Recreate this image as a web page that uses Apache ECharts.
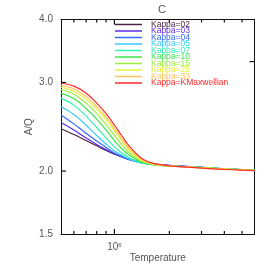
<!DOCTYPE html>
<html><head><meta charset="utf-8">
<script src="https://cdn.jsdelivr.net/npm/echarts@6/dist/echarts.min.js"></script>
<style>html,body{margin:0;padding:0;background:#fff}#c{width:273px;height:273px}</style>
</head><body><div id="c"></div>
<script>
// Temperature grid (K)
var temps = [5.1e5, 6e5, 7e5, 8e5, 9e5, 1.0e6, 1.1e6, 1.2e6, 1.4e6, 1.6e6, 1.8e6, 2.0e6, 2.5e6, 3e6, 4e6, 5e6, 5.85e6];
var seriesNames = ['Kappa=02','Kappa=03','Kappa=04','Kappa=05','Kappa=07','Kappa=10','Kappa=15','Kappa=25','Kappa=33','Kappa=KMaxwellian'];
var k02 = [2.428,2.364,2.300,2.245,2.198,2.160,2.134,2.114,2.086,2.070,2.060,2.052,2.042,2.034,2.020,2.012,2.006];
var k03 = [2.497,2.413,2.327,2.259,2.208,2.165,2.133,2.107,2.079,2.066,2.058,2.052,2.043,2.035,2.021,2.013,2.007];
var k04 = [2.586,2.482,2.377,2.295,2.229,2.173,2.139,2.112,2.078,2.062,2.055,2.050,2.042,2.034,2.021,2.013,2.007];
var k05 = [2.687,2.590,2.466,2.354,2.264,2.193,2.149,2.115,2.076,2.061,2.053,2.048,2.041,2.034,2.021,2.013,2.007];
var k07 = [2.792,2.704,2.572,2.441,2.327,2.234,2.173,2.126,2.078,2.060,2.052,2.048,2.040,2.034,2.021,2.013,2.007];
var k10 = [2.857,2.786,2.662,2.537,2.413,2.300,2.213,2.153,2.086,2.062,2.051,2.047,2.039,2.033,2.021,2.013,2.007];
var k15 = [2.902,2.843,2.729,2.602,2.475,2.354,2.254,2.178,2.095,2.065,2.052,2.047,2.039,2.032,2.020,2.013,2.007];
var k25 = [2.934,2.882,2.779,2.655,2.531,2.407,2.295,2.205,2.105,2.069,2.053,2.047,2.038,2.031,2.020,2.012,2.007];
var k33 = [2.961,2.911,2.811,2.686,2.561,2.435,2.316,2.223,2.112,2.072,2.055,2.048,2.038,2.030,2.018,2.011,2.006];
var kMax = [2.992,2.949,2.856,2.729,2.602,2.469,2.348,2.246,2.124,2.076,2.060,2.049,2.036,2.027,2.016,2.009,2.005];
var allValues = [k02,k03,k04,k05,k07,k10,k15,k25,k33,kMax];
var colors = ['#4d2346','#5b2cf0','#2f6bff','#33ccff','#2ef5b0','#3ae84a','#9af03a','#e6f23a','#ffc35a','#ff2a2a'];
// Axis ticks / labels
var yLabels = [1.5, 2.0, 3.0, 4.0];
var yTicks = [2.0, 3.0];
var yRightTicks = [3.3];
var xLabels = [1e6];
var xMajorTicks = [1e6];
var xMinorTicks = [6e5, 7e5, 8e5, 9e5, 2e6, 3e6, 4e6, 5e6];
var xMin = 5.1e5, xMax = 5.85e6, yMin = 1.5, yMax = 4.0;

var FONT = 'Liberation Sans';
var GRAY = '#555';
var AX = '#111';

// Tick marks drawn through the axes' own scales (api.coord)
function tickSeries(values, side, len) {
  var data = values.map(function (v) {
    if (side === 'bottom') return [v, yMin];
    if (side === 'top') return [v, yMax];
    if (side === 'left') return [xMin, v];
    return [xMax, v];
  });
  return {
    type: 'custom', silent: true, clip: false, z: 5, xAxisIndex: 0, yAxisIndex: 0,
    data: data,
    renderItem: function (params, api) {
      var p = api.coord([api.value(0), api.value(1)]);
      var x = p[0], y = p[1];
      var s;
      if (side === 'bottom') s = { x1: x, y1: y, x2: x, y2: y - len };
      else if (side === 'top') s = { x1: x, y1: y, x2: x, y2: y + len };
      else if (side === 'left') s = { x1: x, y1: y, x2: x + len, y2: y };
      else s = { x1: x, y1: y, x2: x - len, y2: y };
      return { type: 'line', shape: s, style: { stroke: AX, lineWidth: 1.2 } };
    }
  };
}

var series = seriesNames.map(function (n, i) {
  return {
    name: n, type: 'line', xAxisIndex: 0, yAxisIndex: 0,
    data: temps.map(function (t, j) { return [t, allValues[i][j]]; }),
    showSymbol: false, smooth: 0.35,
    lineStyle: { color: colors[i], width: 1.2 },
    itemStyle: { color: colors[i] }
  };
});
series.push(tickSeries(xMajorTicks, 'bottom', 5));
series.push(tickSeries(xMinorTicks, 'bottom', 3));
series.push(tickSeries(xMajorTicks, 'top', 5));
series.push(tickSeries(xMinorTicks, 'top', 3));
series.push(tickSeries(yTicks, 'left', 5));
series.push(tickSeries(yRightTicks, 'right', 5));

var chart = echarts.init(document.getElementById('c'), null, { renderer: 'canvas' });
chart.setOption({
  animation: false,
  backgroundColor: '#fff',
  title: { text: 'C', left: 157, top: -1, textAlign: 'center',
    textStyle: { fontFamily: FONT, fontSize: 11, fontWeight: 'normal', color: GRAY } },
  legend: {
    orient: 'vertical', left: 115, top: 20, itemWidth: 27, itemHeight: 1.5, itemGap: -2.5,
    icon: 'rect', padding: 0,
    data: seriesNames.map(function (n, i) {
      return { name: n, itemStyle: { color: colors[i] }, textStyle: { color: colors[i] } };
    }),
    textStyle: { fontFamily: FONT, fontSize: 8.5, padding: [0,0,0,4] }
  },
  grid: { left: 61, right: 18.5, top: 19.5, bottom: 39, containLabel: false },
  xAxis: [
    {
      type: 'log', logBase: 10, min: xMin, max: xMax, position: 'bottom', offset: 0,
      name: 'Temperature', nameLocation: 'middle', nameGap: 19, nameMoveOverlap: false,
      nameTextStyle: { fontFamily: FONT, fontSize: 10, color: GRAY },
      axisLine: { show: true, onZero: false, lineStyle: { color: AX, width: 1 } },
      axisTick: { show: false },
      axisLabel: {
        show: true, customValues: xLabels, margin: 8,
        formatter: function () { return '{a|10}{b|6}'; },
        rich: {
          a: { fontFamily: FONT, fontSize: 10, color: GRAY },
          b: { fontFamily: FONT, fontSize: 6, color: GRAY, verticalAlign: 'top', padding: [0,0,5,0] }
        }
      },
      splitLine: { show: false }, minorTick: { show: false }, minorSplitLine: { show: false }
    },
    {
      type: 'log', logBase: 10, min: xMin, max: xMax, position: 'top', offset: 0,
      axisLine: { show: true, onZero: false, lineStyle: { color: AX, width: 1 } },
      axisTick: { show: false }, axisLabel: { show: false }, splitLine: { show: false }
    }
  ],
  yAxis: [
    {
      type: 'log', logBase: 10, min: yMin, max: yMax, position: 'left', offset: 0,
      axisLine: { show: true, onZero: false, lineStyle: { color: AX, width: 1 } },
      axisTick: { show: false },
      axisLabel: { show: true, customValues: yLabels, margin: 8,
        formatter: function (v) { return Number(v).toFixed(1); },
        fontFamily: FONT, fontSize: 10, color: GRAY },
      splitLine: { show: false }
    },
    {
      type: 'log', logBase: 10, min: yMin, max: yMax, position: 'right', offset: 0,
      axisLine: { show: true, onZero: false, lineStyle: { color: AX, width: 1 } },
      axisTick: { show: false }, axisLabel: { show: false }, splitLine: { show: false }
    },
    {
      type: 'log', logBase: 10, min: yMin, max: yMax, position: 'left', offset: 0,
      name: 'A/Q', nameLocation: 'middle', nameGap: 27,
      nameTextStyle: { fontFamily: FONT, fontSize: 10, color: GRAY },
      axisLine: { show: false, onZero: false }, axisTick: { show: false },
      axisLabel: { show: false }, splitLine: { show: false }
    }
  ],
  series: series
});
</script>
</body></html>
